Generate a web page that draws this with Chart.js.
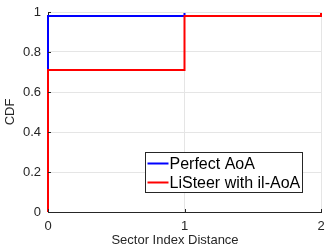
<!DOCTYPE html>
<html>
<head>
<meta charset="utf-8">
<script src="https://cdn.jsdelivr.net/npm/chart.js@4/dist/chart.umd.min.js"></script>
<style>
  html, body { margin: 0; padding: 0; background: #fff; }
  #wrap { width: 325px; height: 247px; }
</style>
</head>
<body>
<div id="wrap"><canvas id="c" width="325" height="247"></canvas></div>
<script>
// CDF steps
var seriesNames = ['Perfect AoA', 'LiSteer with il-AoA'];
var perfectX = [0, 0, 1, 2];
var perfectY = [0, 0.98, 1, 1];
var listeerX = [0, 0, 1, 2];
var listeerY = [0, 0.71, 0.98, 1];
var xTicks = [0, 1, 2];
var yTicks = [0, 0.2, 0.4, 0.6, 0.8, 1];
var xTitle = 'Sector Index Distance';

function toPoints(xs, ys) {
    return xs.map(function (x, i) { return { x: x, y: ys[i] }; });
}

var textColor = '#262626';
var font = 'Liberation Sans, Arial, sans-serif';

// legend box inside the plot, x label, and small inward ticks like matlab
var boxLegend = {
    id: 'boxLegend',
    afterDraw: function (chart) {
        var ctx = chart.ctx;
        var xs = chart.scales.x, ys = chart.scales.y;
        ctx.save();
        ctx.strokeStyle = textColor;
        ctx.lineWidth = 1;
        xTicks.forEach(function (t) {
            var px = Math.round(xs.getPixelForValue(t)) + 0.5;
            ctx.beginPath();
            ctx.moveTo(px, ys.bottom);
            ctx.lineTo(px, ys.bottom - 3);
            ctx.stroke();
        });
        yTicks.forEach(function (t) {
            var py = Math.round(ys.getPixelForValue(t)) + 0.5;
            ctx.beginPath();
            ctx.moveTo(xs.left, py);
            ctx.lineTo(xs.left + 3, py);
            ctx.stroke();
        });

        // x axis label (sits a bit left of the axis centre in the original)
        ctx.fillStyle = textColor;
        ctx.font = '13px ' + font;
        ctx.textAlign = 'center';
        ctx.textBaseline = 'middle';
        ctx.fillText(xTitle, 175, 240);

        var x0 = 145.5, y0 = 152.5, w = 157, h = 40;
        ctx.fillStyle = '#fff';
        ctx.fillRect(x0, y0, w, h);
        ctx.strokeStyle = '#262626';
        ctx.strokeRect(x0, y0, w, h);
        ctx.font = '16px ' + font;
        ctx.textAlign = 'left';
        chart.data.datasets.forEach(function (ds, i) {
            var ly = y0 + 11 + i * 19;
            ctx.strokeStyle = ds.borderColor;
            ctx.lineWidth = 2;
            ctx.beginPath();
            ctx.moveTo(x0 + 2, ly);
            ctx.lineTo(x0 + 23, ly);
            ctx.stroke();
            ctx.fillStyle = '#000';
            ctx.fillText(ds.label, x0 + 24, ly + 1);
        });
        ctx.restore();
    }
};

var lineClip = { left: 4, top: -1, right: 4, bottom: 4 };

var ctx = document.getElementById('c').getContext('2d');
var myChart = new Chart(ctx, {
    type: 'line',
    data: {
        datasets: [{
            label: seriesNames[0],
            data: toPoints(perfectX, perfectY),
            borderColor: '#0000ff',
            borderWidth: 2,
            stepped: 'before',
            pointRadius: 0,
            fill: false,
            clip: lineClip,
            order: 2
        }, {
            label: seriesNames[1],
            data: toPoints(listeerX, listeerY),
            borderColor: '#ff0000',
            borderWidth: 2,
            stepped: 'before',
            pointRadius: 0,
            fill: false,
            clip: lineClip,
            order: 1
        }]
    },
    options: {
        responsive: false,
        animation: false,
        layout: { padding: { left: 3, top: 12, right: 4, bottom: 0 } },
        plugins: {
            legend: { display: false },
            tooltip: { enabled: false }
        },
        scales: {
            x: {
                type: 'linear',
                min: 0,
                max: 2,
                afterBuildTicks: function (s) { s.ticks = xTicks.map(function (v) { return { value: v }; }); },
                afterFit: function (s) { s.height = 35; s.paddingLeft = 0; s.paddingRight = 0; },
                grid: { color: '#e5e5e5', tickLength: 0, drawTicks: false },
                border: { color: textColor, width: 1 },
                ticks: { color: textColor, font: { family: font, size: 13 }, padding: 7, maxRotation: 0 },
                title: { display: false }
            },
            y: {
                min: 0,
                max: 1,
                afterBuildTicks: function (s) { s.ticks = yTicks.map(function (v) { return { value: v }; }); },
                afterFit: function (s) { s.width = 45; s.paddingTop = 0; s.paddingBottom = 0; },
                grid: { color: '#e5e5e5', tickLength: 0, drawTicks: false },
                border: { color: textColor, width: 1 },
                ticks: {
                    color: textColor,
                    font: { family: font, size: 13 },
                    padding: 7,
                    callback: function (v) { return String(Math.round(v * 10) / 10); }
                },
                title: { display: true, text: 'CDF', color: textColor, font: { family: font, size: 13 }, padding: { top: 0, bottom: 0 } }
            }
        }
    },
    plugins: [boxLegend]
});
</script>
</body>
</html>
